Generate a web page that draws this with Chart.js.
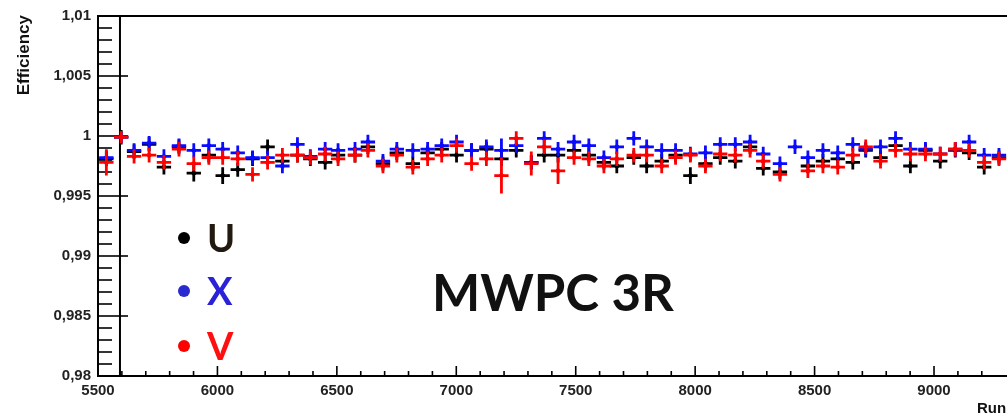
<!DOCTYPE html>
<html lang="en">
<head>
    <meta charset="UTF-8">
    <title>MWPC 3R efficiency per run</title>
    <script src="https://cdn.jsdelivr.net/npm/chart.js"></script>
    <style>
        html, body { margin: 0; padding: 0; background: #ffffff; }
        .chart-box { position: relative; width: 1007px; height: 416px; }
    </style>
</head>
<body>
<div class="chart-box"><canvas id="eff"></canvas></div>
<script>
// run numbers (x) and plane efficiencies
const runs = [5535, 5597, 5651, 5714, 5776, 5839, 5901, 5964, 6022, 6085,
    6147, 6210, 6272, 6335, 6389, 6451, 6505, 6576, 6630, 6693,
    6751, 6818, 6880, 6939, 7001, 7064, 7126, 7189, 7251, 7314,
    7368, 7426, 7493, 7555, 7618, 7672, 7743, 7797, 7860, 7918,
    7980, 8043, 8105, 8168, 8230, 8285, 8355, 8418, 8472, 8535,
    8597, 8660, 8714, 8776, 8839, 8901, 8964, 9026, 9089, 9147,
    9210, 9272];

const effU = [0.9981, 0.9999, 0.9987, 0.9993, 0.9974, 0.9991, 0.9969, 0.9984, 0.9967, 0.9972,
    0.9981, 0.9991, 0.9979, 0.9984, 0.9981, 0.9978, 0.9984, 0.9984, 0.9991, 0.9977,
    0.9986, 0.9977, 0.9986, 0.9989, 0.9984, 0.9988, 0.9989, 0.9981, 0.9988, 0.9978,
    0.9984, 0.9984, 0.9988, 0.9984, 0.9978, 0.9975, 0.9982, 0.9975, 0.9979, 0.9984,
    0.9967, 0.9977, 0.9982, 0.9979, 0.9991, 0.9973, 0.9970, null, 0.9975, 0.9979,
    0.9981, 0.9978, 0.9988, 0.9982, 0.9992, 0.9975, 0.9988, 0.9979, 0.9988, 0.9986,
    0.9974, 0.9982];

const effX = [0.9982, 0.9999, 0.9988, 0.9994, 0.9983, 0.9992, 0.9988, 0.9992, 0.9989, 0.9986,
    0.9982, 0.9982, 0.9975, 0.9993, 0.9983, 0.9989, 0.9988, 0.9989, 0.9995, 0.9979,
    0.9989, 0.9988, 0.9989, 0.9992, 0.9995, 0.9988, 0.9991, 0.9988, 0.9992, 0.9978,
    0.9998, 0.9989, 0.9995, 0.9992, 0.9982, 0.9991, 0.9998, 0.9991, 0.9988, 0.9988,
    0.9985, 0.9986, 0.9993, 0.9993, 0.9995, 0.9985, 0.9977, 0.9991, 0.9982, 0.9988,
    0.9986, 0.9993, 0.9989, 0.9991, 0.9998, 0.9989, 0.9989, 0.9985, 0.9989, 0.9995,
    0.9984, 0.9984];

const effV = [0.9978, 0.9999, 0.9983, 0.9984, 0.9978, 0.9989, 0.9977, 0.9982, 0.9982, 0.9981,
    0.9968, 0.9978, 0.9984, 0.9984, 0.9982, 0.9985, 0.9981, 0.9984, 0.9988, 0.9975,
    0.9984, 0.9974, 0.9981, 0.9984, 0.9992, 0.9977, 0.9981, 0.9967, 0.9998, 0.9977,
    0.9991, 0.9971, 0.9982, 0.9981, 0.9975, 0.9981, 0.9984, 0.9984, 0.9975, 0.9982,
    0.9984, 0.9975, 0.9985, 0.9984, 0.9988, 0.9979, 0.9968, null, 0.9971, 0.9975,
    0.9974, 0.9984, 0.9991, 0.9979, 0.9988, 0.9985, 0.9985, 0.9985, 0.9989, 0.9988,
    0.9978, 0.9981];

// vertical error bars, in units of 1e-4
const errU = [6, 6, 6, 6, 6, 6, 7, 6, 7, 6,  6, 6, 6, 6, 6, 6, 6, 6, 6, 6,
    6, 6, 6, 6, 6, 6, 6, 6, 6, 6,  6, 6, 6, 6, 6, 6, 6, 6, 6, 6,
    7, 6, 6, 6, 6, 6, 6, 0, 6, 6,  6, 6, 6, 6, 6, 6, 6, 6, 6, 6,  6, 6];
const errX = [6, 5, 6, 6, 6, 6, 6, 6, 6, 6,  6, 6, 6, 6, 6, 6, 6, 6, 6, 6,
    6, 6, 6, 6, 6, 6, 6, 10, 6, 6,  6, 6, 6, 6, 6, 6, 6, 6, 6, 6,
    6, 6, 6, 6, 6, 6, 6, 6, 6, 6,  6, 6, 6, 6, 6, 6, 6, 6, 6, 6,  6, 6];
const errV = [11, 5, 6, 6, 6, 6, 6, 6, 6, 6,  6, 6, 6, 6, 6, 6, 6, 6, 6, 6,
    6, 6, 6, 6, 6, 6, 6, 15, 6, 10,  6, 11, 6, 6, 6, 6, 6, 6, 6, 6,
    6, 6, 6, 6, 6, 6, 6, 0, 6, 6,  6, 6, 6, 6, 6, 6, 6, 6, 6, 6,  6, 6];
const runHalfWidth = 30;
const markerRun = 5592;

const yTicks = [0.98, 0.985, 0.99, 0.995, 1, 1.005, 1.01];
const yLabels = ['0,98', '0,985', '0,99', '0,995', '1', '1,005', '1,01'];
const xTicks = [5500, 6000, 6500, 7000, 7500, 8000, 8500, 9000];
const planes = ['U', 'X', 'V'];

// order: lower is drawn later (on top), V sits above X above U
const series = [
    { name: 'U', eff: effU, err: errU, color: '#000000', dot: '#000000', text: '#221a10', order: 2 },
    { name: 'X', eff: effX, err: errX, color: '#0a0aff', dot: '#2a2ad0', text: '#2a22d8', order: 1 },
    { name: 'V', eff: effV, err: errV, color: '#ff0000', dot: '#ff0000', text: '#ff1010', order: 0 }
];

const rootStyle = {
    id: 'rootStyle',
    beforeDatasetsDraw(chart) {
        const { ctx, chartArea: a, scales: { x, y } } = chart;
        ctx.save();
        ctx.strokeStyle = '#000';
        ctx.lineCap = 'butt';

        // y ticks, pointing into the frame
        ctx.lineWidth = 1.6;
        for (let i = 0; i < yTicks.length; i++) {
            const py = y.getPixelForValue(yTicks[i]);
            ctx.beginPath(); ctx.moveTo(a.left, py); ctx.lineTo(a.left + 30, py); ctx.stroke();
            if (i < yTicks.length - 1) {
                for (let k = 1; k < 5; k++) {
                    const v = yTicks[i] + (yTicks[i + 1] - yTicks[i]) * k / 5;
                    const pm = y.getPixelForValue(v);
                    ctx.beginPath(); ctx.moveTo(a.left, pm); ctx.lineTo(a.left + 14, pm); ctx.stroke();
                }
            }
        }
        // x ticks
        for (let i = 0; i < xTicks.length; i++) {
            const px = x.getPixelForValue(xTicks[i]);
            ctx.beginPath(); ctx.moveTo(px, a.bottom); ctx.lineTo(px, a.bottom - 10); ctx.stroke();
            for (let k = 1; k < 5; k++) {
                const pm = x.getPixelForValue(xTicks[i] + 100 * k);
                if (pm > a.right) break;
                ctx.beginPath(); ctx.moveTo(pm, a.bottom); ctx.lineTo(pm, a.bottom - 5); ctx.stroke();
            }
        }

        // vertical marker line
        const mx = x.getPixelForValue(markerRun);
        ctx.lineWidth = 2;
        ctx.beginPath(); ctx.moveTo(mx, a.top); ctx.lineTo(mx, a.bottom); ctx.stroke();

        // frame
        ctx.lineWidth = 2;
        ctx.strokeRect(a.left, a.top, a.right - a.left + 4, a.bottom - a.top);
        ctx.restore();
    },
    afterDatasetDraw(chart, args) {
        const s = series[args.index];
        const { ctx, scales: { x, y } } = chart;
        ctx.save();
        ctx.strokeStyle = s.color;
        ctx.lineWidth = 2.8;
        runs.forEach((r, i) => {
            const v = s.eff[i];
            if (v === null) return;
            const e = s.err[i] * 1e-4;
            const px = x.getPixelForValue(r);
            const py = y.getPixelForValue(v);
            ctx.beginPath();
            ctx.moveTo(x.getPixelForValue(r - runHalfWidth), py);
            ctx.lineTo(x.getPixelForValue(r + runHalfWidth), py);
            ctx.moveTo(px, y.getPixelForValue(v + e));
            ctx.lineTo(px, y.getPixelForValue(v - e));
            ctx.stroke();
        });
        ctx.restore();
    },
    afterDraw(chart) {
        const { ctx } = chart;
        ctx.save();
        ctx.fillStyle = '#111';

        // axis titles
        ctx.font = 'bold 15px "Liberation Sans"';
        ctx.textBaseline = 'alphabetic';
        ctx.textAlign = 'left';
        ctx.fillText('Run', 977, 413);
        ctx.save();
        ctx.translate(24, 15);
        ctx.rotate(-Math.PI / 2);
        ctx.textAlign = 'right';
        ctx.textBaseline = 'middle';
        ctx.font = 'bold 17px "Liberation Sans"';
        ctx.fillText('Efficiency', 0, 0);
        ctx.restore();

        // plane legend
        ctx.font = 'bold 38px Lato';
        ctx.textAlign = 'left';
        ctx.textBaseline = 'alphabetic';
        const rows = [238, 291, 346];
        series.forEach((s, i) => {
            ctx.fillStyle = s.dot;
            ctx.beginPath(); ctx.arc(184, rows[i], 6, 0, Math.PI * 2); ctx.fill();
            ctx.fillStyle = s.text;
            ctx.fillText(planes[i], 207, rows[i] + 14);
        });

        // detector label
        ctx.fillStyle = '#111';
        ctx.font = 'bold 51px Lato';
        ctx.fillText('MWPC 3R', 432, 311);
        ctx.restore();
    }
};

new Chart(document.getElementById('eff'), {
    type: 'scatter',
    data: {
        datasets: series.map(s => ({
            label: s.name,
            order: s.order,
            data: runs.map((r, i) => ({ x: r, y: s.eff[i] })).filter(p => p.y !== null),
            backgroundColor: s.color,
            borderColor: s.color,
            pointRadius: 2,
            pointHoverRadius: 2,
            showLine: false
        }))
    },
    options: {
        responsive: true,
        maintainAspectRatio: false,
        animation: false,
        layout: { padding: { top: 13, right: 0, left: 0, bottom: 0 } },
        plugins: { legend: { display: false }, tooltip: { enabled: false } },
        scales: {
            x: {
                type: 'linear',
                min: 5500,
                max: 9293,
                grid: { display: false, drawTicks: false },
                border: { display: false },
                afterBuildTicks: s => { s.ticks = xTicks.map(v => ({ value: v })); },
                afterFit: s => { s.height = 40; },
                ticks: {
                    padding: 6,
                    maxRotation: 0,
                    color: '#222',
                    font: { family: 'Liberation Sans', size: 15, weight: 'bold' },
                    callback: v => String(v)
                }
            },
            y: {
                min: 0.98,
                max: 1.01,
                grid: { display: false, drawTicks: false },
                border: { display: false },
                afterBuildTicks: s => { s.ticks = yTicks.map(v => ({ value: v })); },
                afterFit: s => { s.width = 98; },
                ticks: {
                    padding: 7,
                    color: '#222',
                    font: { family: 'Liberation Sans', size: 15, weight: 'bold' },
                    callback: (v, i) => yLabels[i]
                }
            }
        }
    },
    plugins: [rootStyle]
});
</script>
</body>
</html>
